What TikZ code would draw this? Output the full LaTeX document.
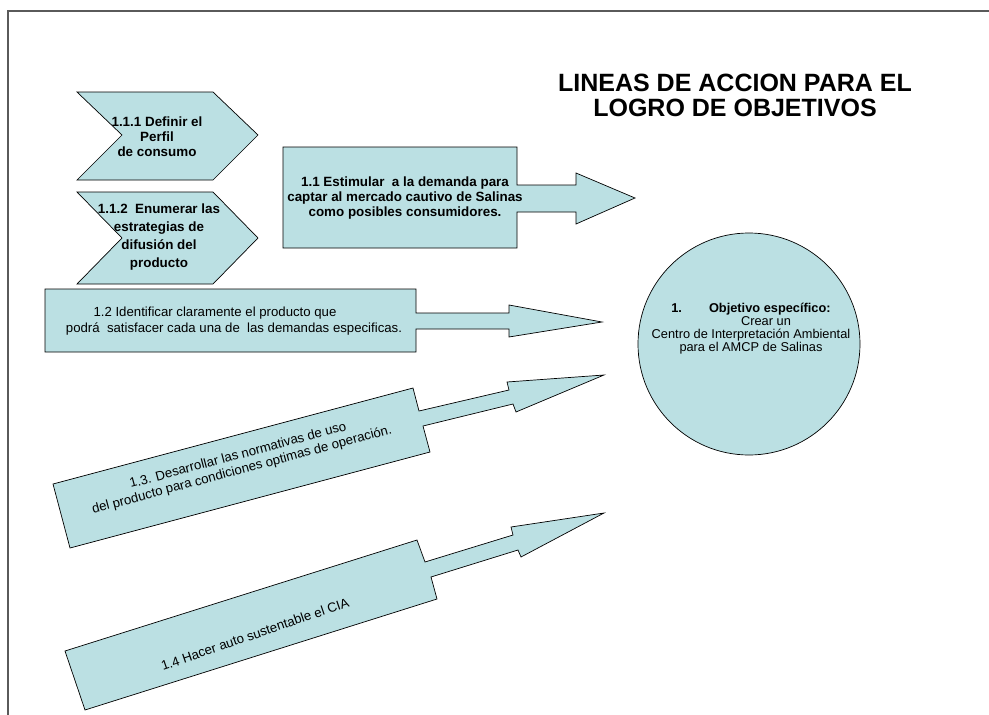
\documentclass[tikz,border=0pt]{standalone}
\usepackage{fontspec}
\setmainfont{Liberation Sans}
\definecolor{fillc}{RGB}{187,224,227}
\definecolor{framec}{RGB}{90,90,90}
\begin{document}
\begin{tikzpicture}[x=1pt,y=-1pt,
  shp/.style={fill=fillc, draw=black, line width=0.7pt, line join=miter},
  bt/.style={font=\bfseries\fontsize{13.4}{15}\selectfont, align=center, inner sep=0pt},
  rt/.style={font=\fontsize{13.2}{15}\selectfont, align=center, inner sep=0pt},
  ct/.style={font=\fontsize{12.8}{13}\selectfont, align=center, inner sep=0pt}]
\useasboundingbox (0,0) rectangle (989,715);
% frame
\draw[framec, line width=1.4pt] (8,715) -- (8,11) -- (989,11);
% chevrons
\draw[shp] (77,92) -- (213,92) -- (258,135) -- (213,180) -- (77,180) -- (122,135) -- cycle;
\draw[shp] (77,192) -- (213,192) -- (258,238) -- (213,284) -- (77,284) -- (122,238) -- cycle;
\node[bt] (t111) at (157,137) {1.1.1 Definir el\\Perfil\\de consumo};
\node[bt, font=\bfseries\fontsize{13.4}{18}\selectfont] (t112) at (159,237) {1.1.2\ \ Enumerar las\\estrategias de\\difusión del\\producto};
% arrow 1.1
\draw[shp] (283,147) -- (517,147) -- (517,185) -- (576,185) -- (576,173) -- (635,198) -- (576,224) -- (576,212) -- (517,212) -- (517,248) -- (283,248) -- cycle;
\node[bt] (t11) at (405,198) {1.1 Estimular\ \ a la demanda para\\captar al mercado cautivo de Salinas\\como posibles consumidores.};
% arrow 1.2
\draw[shp] (45,289) -- (416,289) -- (416,313) -- (509,313) -- (509,305) -- (602,322) -- (509,337) -- (509,329) -- (416,329) -- (416,352) -- (45,352) -- cycle;
\node[rt, font=\fontsize{13.2}{16}\selectfont] (t12) at (234,321) {1.2 Identificar claramente el producto que\hspace*{38pt}\\podrá\ \ satisfacer cada una de\ \ las demandas especificas.};
% arrow 1.3
\draw[shp] (53,484) -- (413,388) -- (419,411) -- (509,390) -- (507,382) -- (604,375) -- (516,412) -- (513,404) -- (423,426) -- (430,452) -- (70,548) -- cycle;
\node[rt, rotate=15] (t13) at (240,463) {1.3. Desarrollar las normativas de uso\\del producto para condiciones optimas de operación.};
% arrow 1.4
\draw[shp] (65,651) -- (417,540) -- (425,562) -- (513,535) -- (511,527) -- (604,513) -- (521,557) -- (518,550) -- (431,577) -- (437,599) -- (85,710) -- cycle;
\node[rt, rotate=19] (t14) at (255,634) {1.4 Hacer auto sustentable el CIA};
% objective circle
\node[shp, circle, minimum size=222pt, inner sep=0pt] (obj) at (749,344) {};
\node[ct] (objt) at (751,329) {\textbf{1.\hspace{27pt}Objetivo específico:}\\\hspace*{30pt}Crear un\\Centro de Interpretación Ambiental\\para el AMCP de Salinas};
% title
\node[font=\bfseries\fontsize{25}{25}\selectfont, align=center, inner sep=0pt] (title) at (735,95) {LINEAS DE ACCION PARA EL\\LOGRO DE OBJETIVOS};
\end{tikzpicture}
\end{document}
